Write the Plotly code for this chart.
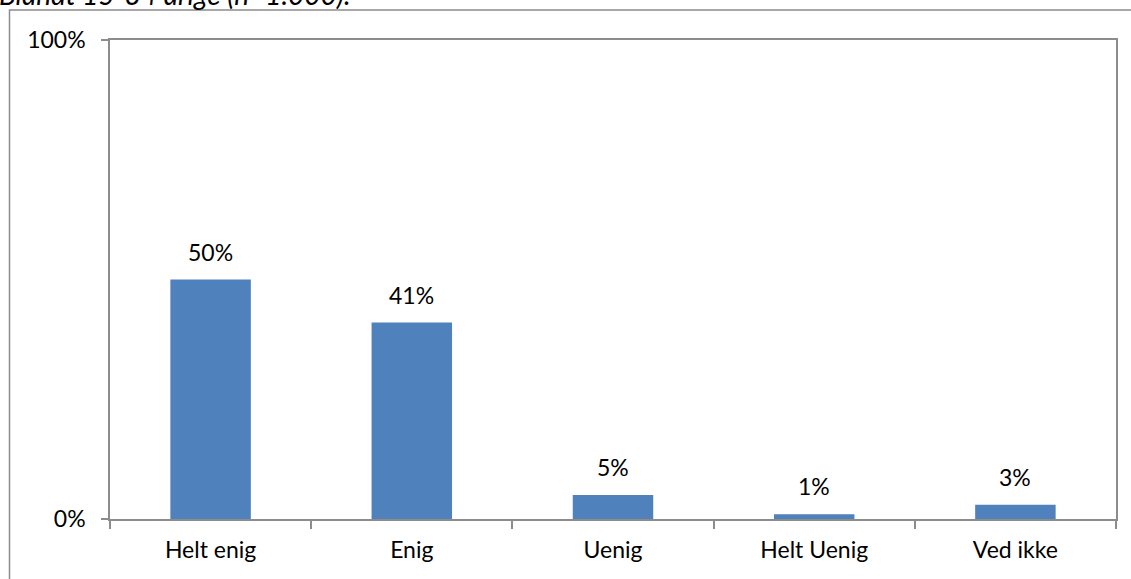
import plotly.graph_objects as go

categories = ["Helt enig", "Enig", "Uenig", "Helt Uenig", "Ved ikke"]
values = [0.50, 0.41, 0.05, 0.01, 0.03]
labels = ["50%", "41%", "5%", "1%", "3%"]
y_tickvals = [0, 1]
y_ticktext = ["0%", "100%"]
subtitle = "Blandt 15-34 årige (n=1.000)."

W, H = 1131, 579
L, R, T, B = 110, 15, 40, 60
pw, ph = W - L - R, H - T - B

def px_x(x):
    return (x - L) / pw

def px_y(y):
    return (H - B - y) / ph

FONT = "Lato, Open Sans, sans-serif"

fig = go.Figure(go.Bar(
    x=categories, y=values,
    marker=dict(color="#4F81BD", line=dict(width=0)),
))

ann = [dict(text=subtitle, xref="paper", yref="paper",
            x=px_x(-3), y=px_y(13), xanchor="left", yanchor="bottom",
            showarrow=False, font=dict(size=28, style="italic"))]
for c, v, t in zip(categories, values, labels):
    ann.append(dict(x=c, y=v, text=t, xref="x", yref="y", showarrow=False,
                    yanchor="bottom", yshift=12, font=dict(size=23)))

fig.update_layout(
    width=W, height=H, margin=dict(l=L, r=R, t=T, b=B),
    paper_bgcolor="white", plot_bgcolor="white",
    font=dict(family=FONT, size=23, color="black"),
    bargap=0.6, showlegend=False,
    shapes=[dict(type="rect", xref="paper", yref="paper",
                 x0=px_x(9.5), x1=px_x(1145), y0=px_y(620), y1=px_y(10),
                 line=dict(color="#8c8c8c", width=1.5), layer="below")],
    annotations=ann,
)
fig.update_xaxes(showline=True, linecolor="#8c8c8c", linewidth=1.5, mirror=True,
                 ticks="outside", tickson="boundaries", ticklen=8, tickcolor="#8c8c8c",
                 tickwidth=1.5, showgrid=False, ticklabelstandoff=10)
fig.update_yaxes(range=[0, 1], tickvals=y_tickvals, ticktext=y_ticktext,
                 showline=True, linecolor="#8c8c8c", linewidth=1.5, mirror=True,
                 ticks="outside", ticklen=7, tickcolor="#8c8c8c", tickwidth=1.5,
                 showgrid=False, zeroline=False, ticklabelstandoff=11)

fig.write_html("out.html", config={"displayModeBar": False},
               post_script="document.body.style.margin='0';document.body.style.overflow='hidden';")
